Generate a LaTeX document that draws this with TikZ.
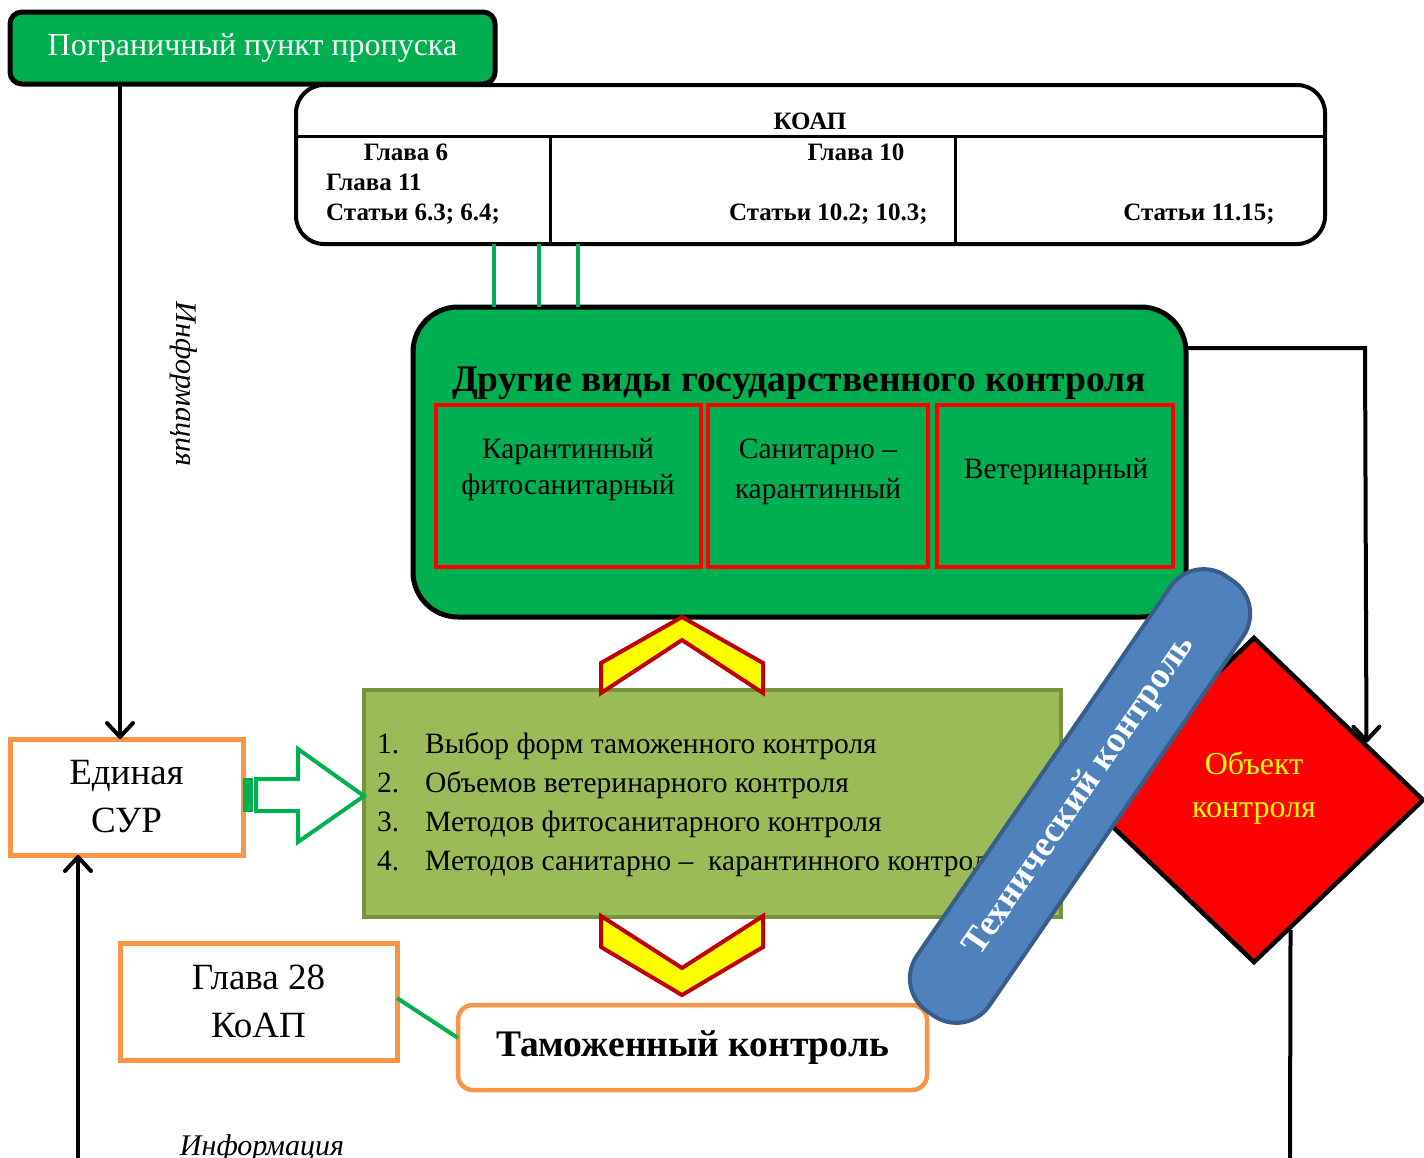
\documentclass[tikz,border=0pt]{standalone}
\usepackage{fontspec}
\setmainfont{Liberation Serif}
\usetikzlibrary{arrows.meta,shapes.geometric,calc}
\definecolor{gr}{HTML}{00B050}
\definecolor{orng}{HTML}{F79646}
\definecolor{olivef}{HTML}{9BBB59}
\definecolor{oliveb}{HTML}{77933C}
\definecolor{blf}{HTML}{4F81BD}
\definecolor{blb}{HTML}{385D8A}
\definecolor{chevb}{HTML}{C00000}
\definecolor{yel}{HTML}{FFFF00}
\newcommand\fsz[2]{\fontsize{#1}{#2}\selectfont}
\begin{document}
\begin{tikzpicture}[x=1pt,y=-1pt,
  box/.style={inner sep=0pt, outer sep=0pt},
  arr/.style={line width=4pt, -{Straight Barb[length=14pt,width=26pt,line width=4pt,round]}},
  blk/.style={line width=4pt},
  gline/.style={draw=gr, line width=4.5pt},
  orbox/.style={box, draw=orng, line width=5pt, fill=white},
  redbox/.style={box, draw=red, line width=4pt, fill=gr},
  chev/.style={draw=chevb, fill=yel, line width=4pt, line join=miter},
  kt/.style={inner sep=0pt, font=\fsz{25}{30}\bfseries},
  lst/.style={inner sep=0pt, font=\fsz{29.5}{34}},
  infot/.style={inner sep=0pt, font=\fsz{30}{34}\itshape},
]
\useasboundingbox (0,0) rectangle (1424,1157);

% top-left green box
\node[box, draw=black, line width=5pt, fill=gr, rounded corners=12pt,
  minimum width=485pt, minimum height=72pt, text=white, font=\fsz{32}{38}]
  (ppp) at (252.5,48) {Пограничный пункт пропуска};

% KOAP table
\node[box, draw=black, line width=4pt, fill=white, rounded corners=28pt,
  minimum width=1029pt, minimum height=159pt] (koap) at (810.5,164.5) {};
\coordinate (h1) at (0,136);
\coordinate (v1) at (550,136);
\coordinate (v2) at (955,136);
\draw[line width=3pt] (koap.west |- h1) -- (koap.east |- h1);
\draw[line width=3pt] (v1) -- (v1 |- koap.south);
\draw[line width=3pt] (v2) -- (v2 |- koap.south);
\node[kt, anchor=base] (t0) at (810,129) {КОАП};
\node[kt, anchor=base] (t1) at (406,160) {Глава 6};
\node[kt, anchor=base west] (t2) at (326,190) {Глава 11};
\node[kt, anchor=base west] (t3) at (326,220) {Статьи 6.3; 6.4;};
\node[kt, anchor=base] (t4) at (856,160) {Глава 10};
\node[kt, anchor=base east] (t5) at (928,220) {Статьи 10.2; 10.3;};
\node[kt, anchor=base east] (t6) at (1275,220) {Статьи 11.15;};

% big green box
\node[box, draw=black, line width=5pt, fill=gr, rounded corners=45pt,
  minimum width=773pt, minimum height=310pt] (bigg) at (799.5,462) {};
\coordinate (g1) at (494,0);
\coordinate (g2) at (539,0);
\coordinate (g3) at (578,0);
\foreach \g in {g1,g2,g3}{\draw[gline] (koap.south -| \g) -- (bigg.north -| \g);}
\node[inner sep=0pt, anchor=base, font=\fsz{37.5}{44}\bfseries] (title) at (799,391)
  {Другие виды государственного контроля};
\node[redbox, minimum width=265pt, minimum height=162pt] (rb1) at (568.5,486) {};
\node[redbox, minimum width=220pt, minimum height=162pt] (rb2) at (818,486) {};
\node[redbox, minimum width=236pt, minimum height=162pt] (rb3) at (1055,486) {};
\node[inner sep=0pt, align=center, font=\fsz{29.5}{36}] (rt1) at (568,470) {Карантинный\\фитосанитарный};
\node[inner sep=0pt, align=center, font=\fsz{29.5}{40}] (rt2) at (818,472) {Санитарно –\\карантинный};
\node[inner sep=0pt, font=\fsz{29.5}{36}] (rt3) at (1056,472) {Ветеринарный};

% olive box
\node[box, draw=oliveb, line width=4pt, fill=olivef,
  minimum width=697pt, minimum height=227pt] (olive) at (712.5,803.5) {};
\node[lst, anchor=base west] (n1) at (377,753) {1.};
\node[lst, anchor=base west] (n2) at (377,792) {2.};
\node[lst, anchor=base west] (n3) at (377,831) {3.};
\node[lst, anchor=base west] (n4) at (377,870) {4.};
\node[lst, anchor=base west] (l1) at (425,753) {Выбор форм таможенного контроля};
\node[lst, anchor=base west] (l2) at (425,792) {Объемов ветеринарного контроля};
\node[lst, anchor=base west] (l3) at (425,831) {Методов фитосанитарного контроля};
\node[lst, anchor=base west] (l4) at (425,870) {Методов санитарно –\ \ карантинного контроля};

% chevrons
\draw[chev] (682,617) -- (763,663) -- (763,693) -- (682,640) -- (601,693) -- (601,663) -- cycle;
\draw[chev] (601,916) -- (682,968) -- (763,916) -- (763,947) -- (682,995) -- (601,947) -- cycle;

% left boxes
\node[orbox, minimum width=233pt, minimum height=116pt, align=center, font=\fsz{37}{48}]
  (sur) at (126.5,797) {Единая\\СУР};
\node[orbox, minimum width=277pt, minimum height=117pt, align=center, font=\fsz{37}{48}]
  (g28) at (258.5,1001.5) {Глава 28\\КоАП};
\node[orbox, line width=4.5pt, rounded corners=15pt, minimum width=469pt, minimum height=85pt,
  font=\fsz{37.5}{44}\bfseries] (tam) at (692.5,1047.5) {Таможенный контроль};
\draw[gline, line width=4pt] (g28.east |- 0,998) -- (tam.west |- 0,1038);

% hollow arrow
\fill[gr] (sur.east |- 0,778) rectangle (253,812);
\draw[draw=gr, line width=4pt, line join=miter] (256,779) -- (298,779) -- (298,749) -- (olive.west |- 0,796)
  -- (298,842) -- (298,811) -- (256,811) -- cycle;

% diamond
\node[diamond, draw=black, line width=4.5pt, fill=red, inner sep=0pt,
  minimum width=340pt, minimum height=326pt] (dia) at (1254,800) {};
\node[inner sep=0pt, align=center, text=yel, font=\fsz{32}{43}] (diat) at (1254,788) {Объект\\контроля};

% connectors
\coordinate (a1) at (120,0);
\draw[arr] (ppp.south -| a1) -- (sur.north -| a1);
\coordinate (b1) at (78,1160);
\draw[arr] (b1) -- (b1 |- sur.south);
\coordinate (r1) at (1365,348);
\draw[arr, line join=miter] (bigg.east |- r1) -- (r1) -- ($(dia.north)!0.653!(dia.east)$);
\coordinate (d1) at (1290,1160);
\draw[blk] ($(dia.south)!0.212!(dia.east)$) -- (d1);

\node[infot, rotate=-90] (inf1) at (184,384) {Информация};
\node[infot, anchor=base] (inf2) at (262,1155) {Информация};

% technical control pill
\node[box, draw=blb, line width=4pt, fill=blf, rounded corners=40pt, rotate=55.5,
  minimum width=528pt, minimum height=88pt, text=white, font=\fsz{36.5}{40}\bfseries]
  (tech) at (1080,796) {Технический контроль};
\end{tikzpicture}
\end{document}
